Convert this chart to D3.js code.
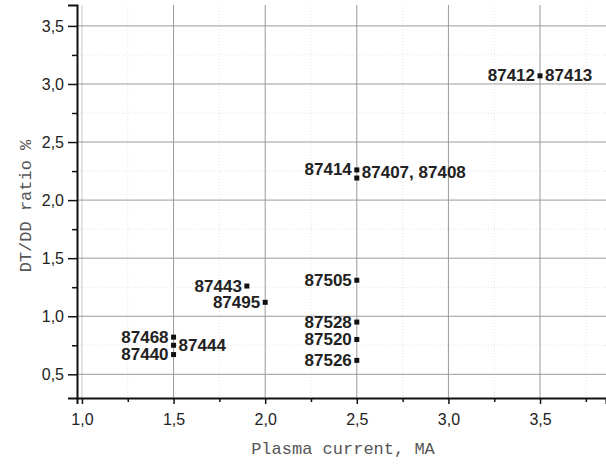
<!DOCTYPE html>
<html>
<head>
<meta charset="utf-8">
<script src="https://cdn.jsdelivr.net/npm/d3@7"></script>
<style>
  body { margin: 0; background: #fff; }
  svg { display: block; }
</style>
</head>
<body>
<div id="graph"></div>
<script>
// shot numbers and where they sit
const shotLabels = ["87412", "87413", "87414", "87407, 87408", "87443", "87495",
                    "87468", "87444", "87440", "87505", "87528", "87520", "87526"];
// which side of the marker the label goes
const labelSide = ["left", "right", "left", "right", "left", "left",
                   "left", "right", "left", "left", "left", "left", "left"];
// plasma current, MA
const current = [3.5, 3.5, 2.5, 2.5, 1.9, 2.0, 1.5, 1.5, 1.5, 2.5, 2.5, 2.5, 2.5];
// DT/DD ratio %
const ratio = [3.07, 3.07, 2.26, 2.19, 1.26, 1.12, 0.82, 0.75, 0.67, 1.31, 0.95, 0.80, 0.62];

// markers (some shots share one marker)
const markerX = [3.5, 2.5, 2.5, 1.9, 2.0, 1.5, 1.5, 1.5, 2.5, 2.5, 2.5, 2.5];
const markerY = [3.07, 2.26, 2.19, 1.26, 1.12, 0.82, 0.75, 0.67, 1.31, 0.95, 0.80, 0.62];

const xMajor = [1.0, 1.5, 2.0, 2.5, 3.0, 3.5];
const xMinor = [1.25, 1.75, 2.25, 2.75, 3.25, 3.75];
const yMajor = [0.5, 1.0, 1.5, 2.0, 2.5, 3.0, 3.5];
const yMinor = [0.75, 1.25, 1.75, 2.25, 2.75, 3.25];

const w = 606, h = 464;
const margin = {top: 5, right: 0, bottom: 66, left: 77};

const svg = d3.select("#graph")
    .append("svg")
    .attr("width", w)
    .attr("height", h);

// scales
const xScale = d3.scaleLinear()
    .domain([0.973, 3.86])
    .range([margin.left, w - margin.right]);
const yScale = d3.scaleLinear()
    .domain([0.296, 3.68])
    .range([h - margin.bottom, margin.top]);

const fmt = d => d3.format(".1f")(d).replace(".", ",");

// minor grid, dotted
svg.append("g").selectAll("line")
    .data(xMinor)
    .join("line")
    .attr("x1", d => xScale(d)).attr("x2", d => xScale(d))
    .attr("y1", margin.top).attr("y2", h - margin.bottom)
    .attr("stroke", "#e2e2e2").attr("stroke-dasharray", "1,2");
svg.append("g").selectAll("line")
    .data(yMinor)
    .join("line")
    .attr("x1", margin.left).attr("x2", w)
    .attr("y1", d => yScale(d)).attr("y2", d => yScale(d))
    .attr("stroke", "#e2e2e2").attr("stroke-dasharray", "1,2");

// major grid
svg.append("g").selectAll("line")
    .data(xMajor)
    .join("line")
    .attr("x1", d => xScale(d)).attr("x2", d => xScale(d))
    .attr("y1", margin.top).attr("y2", h - margin.bottom)
    .attr("stroke", d => d === 1.0 ? "#c8c8c8" : "#9a9a9a");
svg.append("g").selectAll("line")
    .data(yMajor)
    .join("line")
    .attr("x1", margin.left).attr("x2", w)
    .attr("y1", d => yScale(d)).attr("y2", d => yScale(d))
    .attr("stroke", "#9a9a9a");

// x axis
const xAxisG = svg.append("g")
    .attr("transform", `translate(0,${h - margin.bottom})`)
    .call(d3.axisBottom(xScale).tickValues(xMajor).tickFormat(fmt).tickSize(6).tickPadding(10));
svg.append("g")
    .attr("transform", `translate(0,${h - margin.bottom})`)
    .call(d3.axisBottom(xScale).tickValues(xMinor).tickFormat("").tickSize(4))
    .select(".domain").remove();

// y axis
const yAxisG = svg.append("g")
    .attr("transform", `translate(${margin.left},0)`)
    .call(d3.axisLeft(yScale).tickValues(yMajor).tickFormat(fmt).tickSize(9).tickPadding(4));
svg.append("g")
    .attr("transform", `translate(${margin.left},0)`)
    .call(d3.axisLeft(yScale).tickValues(yMinor).tickFormat("").tickSize(5))
    .select(".domain").remove();

svg.selectAll(".domain").attr("stroke", "#111").attr("stroke-width", 2);
svg.selectAll(".tick line").attr("stroke", "#111").attr("stroke-width", 1.5);
svg.selectAll(".tick text")
    .style("font-family", "'Liberation Sans', Arial, sans-serif")
    .style("font-size", "16px")
    .attr("fill", "#222");

// axis titles
svg.append("text")
    .attr("x", 343)
    .attr("y", 449)
    .attr("text-anchor", "middle")
    .attr("dominant-baseline", "central")
    .style("font-family", "'Liberation Mono', 'Courier New', monospace")
    .style("font-size", "17px")
    .attr("fill", "#555")
    .text("Plasma current, MA");
svg.append("text")
    .attr("transform", "translate(26,206) rotate(-90)")
    .attr("text-anchor", "middle")
    .attr("dominant-baseline", "central")
    .style("font-family", "'Liberation Mono', 'Courier New', monospace")
    .style("font-size", "17px")
    .attr("fill", "#555")
    .text("DT/DD ratio %");

// markers
const markers = markerX.map((x, i) => ({x: x, y: markerY[i]}));
svg.append("g").selectAll("rect")
    .data(markers)
    .join("rect")
    .attr("x", d => xScale(d.x) - 2.5)
    .attr("y", d => yScale(d.y) - 2.5)
    .attr("width", 5)
    .attr("height", 5)
    .attr("fill", "#111");

// shot labels
const labels = shotLabels.map((s, i) => ({text: s, side: labelSide[i], x: current[i], y: ratio[i]}));
const nudge = {"87407, 87408": -6};
svg.append("g").selectAll("text")
    .data(labels)
    .join("text")
    .attr("x", d => xScale(d.x) + (d.side === "left" ? -5 : 5))
    .attr("y", d => yScale(d.y) + (nudge[d.text] || 0))
    .attr("text-anchor", d => d.side === "left" ? "end" : "start")
    .attr("dominant-baseline", "central")
    .style("font-family", "'Liberation Sans', Arial, sans-serif")
    .style("font-size", "17px")
    .style("font-weight", "bold")
    .attr("fill", "#222")
    .text(d => d.text);
</script>
</body>
</html>
